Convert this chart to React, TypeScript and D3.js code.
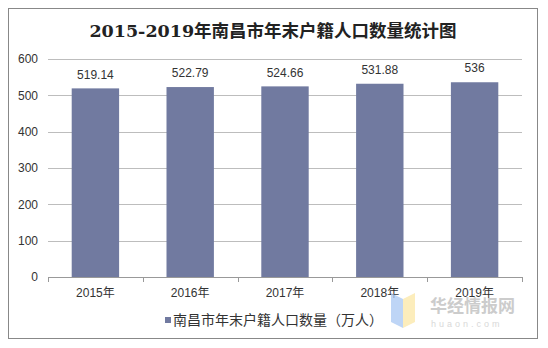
import React from "react";
import * as d3 from "d3";

const categories = ["2015年", "2016年", "2017年", "2018年", "2019年"];
const values = [519.14, 522.79, 524.66, 531.88, 536];
const valueLabels = ["519.14", "522.79", "524.66", "531.88", "536"];
const yTicks = [0, 100, 200, 300, 400, 500, 600];
const title = "2015-2019年南昌市年末户籍人口数量统计图";
const seriesName = "南昌市年末户籍人口数量（万人）";

const W = 548, H = 348;
const M = { left: 48, right: 522, top: 59, bottom: 277 };
const barColor = "#717AA0";
const font = "Arial, 'Liberation Sans', 'Noto Sans CJK SC', sans-serif";

export default function App() {
  const x = d3.scaleBand<string>().domain(categories).range([M.left, M.right]).paddingInner(0).paddingOuter(0);
  const y = d3.scaleLinear().domain([0, 600]).range([M.bottom, M.top]);
  const bw = x.bandwidth() * 0.5;
  const boundaries = [...categories.map((c) => x(c) as number), M.right];
  return (
    <svg width={W} height={H} style={{ position: "absolute", left: 0, top: 0 }}>
      <rect x={0} y={0} width={W} height={H} fill="#fff" />
      <rect x={8.5} y={8.5} width={529} height={330} fill="#fff" stroke="#888" strokeWidth={1} />
      <text x={273} y={37} textAnchor="middle" fontSize={17.5} fontWeight="bold" fill="#222"
        fontFamily="'DejaVu Serif', 'Liberation Serif', 'Noto Sans CJK SC', serif">{title}</text>
      {yTicks.map((t) => (
        <g key={t}>
          {t > 0 && <line x1={M.left} x2={M.right} y1={Math.round(y(t)) + 0.5} y2={Math.round(y(t)) + 0.5} stroke="#bdbdbd" />}
          <text x={38} y={y(t)} dy="0.35em" textAnchor="end" fontSize={12} fill="#333" fontFamily={font}>{t}</text>
        </g>
      ))}
      {categories.map((c, i) => {
        const cx = (x(c) as number) + x.bandwidth() / 2;
        return (
          <g key={c}>
            <rect x={cx - bw / 2} y={y(values[i])} width={bw} height={M.bottom - y(values[i])} fill={barColor} />
            <text x={cx} y={y(values[i]) - 14} dy="0.35em" textAnchor="middle" fontSize={12} fill="#333" fontFamily={font}>{valueLabels[i]}</text>
            <text x={cx} y={293} dy="0.35em" textAnchor="middle" fontSize={12} fill="#333" fontFamily={font}>{c}</text>
          </g>
        );
      })}
      <line x1={M.left} x2={M.right} y1={M.bottom + 0.5} y2={M.bottom + 0.5} stroke="#999" />
      {boundaries.map((b, i) => (
        <line key={i} x1={Math.round(b) + 0.5} x2={Math.round(b) + 0.5} y1={M.bottom} y2={M.bottom + 5} stroke="#999" />
      ))}
      {/* watermark */}
      <g opacity={0.75}>
        <polygon points="391,293 403,299 403,328 391,322" fill="#a9c8f3" />
        <polygon points="403,299 415,293 415,322 403,328" fill="#fbe7a6" />
        <text x={430} y={312} fontSize={17} fontWeight="bold" fill="#bbb" fontFamily="'Noto Sans CJK SC', sans-serif">华经情报网</text>
        <text x={431} y={327} fontSize={9} fill="#ccc" letterSpacing={3.0} fontFamily={font}>huaon.com</text>
      </g>
      <rect x={165} y={317} width={6} height={6} fill={barColor} />
      <text x={173} y={320} dy="0.35em" fontSize={14} fill="#333" fontFamily="'Noto Sans CJK SC', sans-serif">{seriesName}</text>
    </svg>
  );
}
